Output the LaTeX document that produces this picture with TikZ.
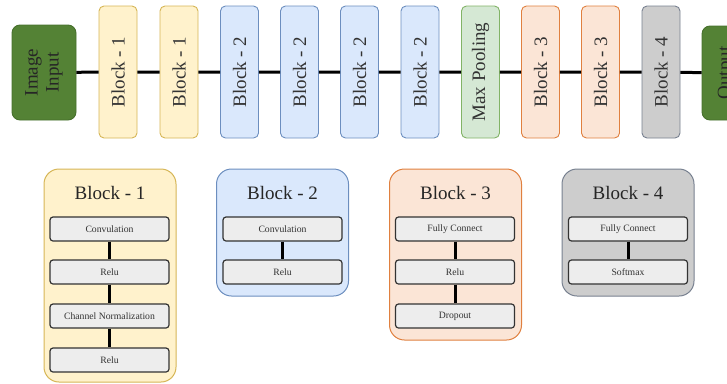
\documentclass[tikz,border=0pt]{standalone}
\usepackage{fontspec}
\setmainfont{Liberation Serif}
\usetikzlibrary{positioning}
\definecolor{yelfill}{HTML}{FFF2CC}
\definecolor{yeldraw}{HTML}{D6B656}
\definecolor{bluefill}{HTML}{DAE8FC}
\definecolor{bluedraw}{HTML}{6C8EBF}
\definecolor{grnfill}{HTML}{D5E8D4}
\definecolor{grndraw}{HTML}{82B366}
\definecolor{orgfill}{HTML}{FBE5D6}
\definecolor{orgdraw}{HTML}{E0803F}
\definecolor{gryfill}{HTML}{CDCDCD}
\definecolor{grydraw}{HTML}{788190}
\definecolor{darkgrn}{HTML}{548235}
\definecolor{darkgrndraw}{HTML}{46702C}
\definecolor{txtgray}{HTML}{333333}

\begin{document}
\begin{tikzpicture}[x=1pt,y=-1pt,
    stage/.style={draw, rounded corners=5pt, line width=0.9pt, rotate=90,
      minimum width=132pt, minimum height=38pt, inner sep=0pt,
      font=\fontsize{19}{21}\selectfont, text=txtgray},
    io/.style={draw=darkgrndraw, fill=darkgrn, rounded corners=8pt, line width=0.9pt,
      rotate=90, minimum width=95pt, inner sep=0pt, align=center,
      font=\fontsize{19}{21}\selectfont, text=black!85},
    group/.style={draw, rounded corners=15pt, line width=1pt, minimum width=132pt, inner sep=0pt},
    title/.style={font=\fontsize{19}{21}\selectfont, text=black!85},
    layer/.style={draw=black!80, fill=black!7, rounded corners=3pt, line width=1.2pt,
      minimum width=119pt, minimum height=24pt, inner sep=0pt,
      font=\fontsize{9.7}{11}\selectfont, text=black!80},
    link/.style={line width=3pt, black}]
  \useasboundingbox (0,0) rectangle (727,383);

  % Network from input to output
  \node[io, minimum height=64pt] (inp) at (44,72.5) {Image\\Input};
  \node[stage, fill=yelfill, draw=yeldraw] (b1a) at (118,72) {Block - 1};
  \node[stage, fill=yelfill, draw=yeldraw] (b1b) at (179,72) {Block - 1};
  \node[stage, fill=bluefill, draw=bluedraw] (b2a) at (239.5,72) {Block - 2};
  \node[stage, fill=bluefill, draw=bluedraw] (b2b) at (299.5,72) {Block - 2};
  \node[stage, fill=bluefill, draw=bluedraw] (b2c) at (359.5,72) {Block - 2};
  \node[stage, fill=bluefill, draw=bluedraw] (b2d) at (420,72) {Block - 2};
  \node[stage, fill=grnfill, draw=grndraw] (pool) at (480.5,72) {Max Pooling};
  \node[stage, fill=orgfill, draw=orgdraw] (b3a) at (540.5,72) {Block - 3};
  \node[stage, fill=orgfill, draw=orgdraw] (b3b) at (600.5,72) {Block - 3};
  \node[stage, fill=gryfill, draw=grydraw] (b4) at (661,72) {Block - 4};
  \node[io, minimum width=94pt, minimum height=44pt, text depth=0pt] (out) at (724,73) {Output};
  \draw[link] (inp) -- (b1a) -- (b1b) -- (b2a) -- (b2b) -- (b2c) -- (b2d)
    -- (pool) -- (b3a) -- (b3b) -- (b4) -- (out);

  % Block - 1
  \node[group, fill=yelfill, draw=yeldraw, minimum height=213pt] (grp1) at (110,275.5) {};
  \node[title] (t1) at (110,193) {Block - 1};
  \node[layer] (c1conv) at (109.5,229) {Convulation};
  \node[layer] (c1relu) at (109.5,272) {Relu};
  \node[layer] (c1norm) at (109.5,316) {Channel Normalization};
  \node[layer] (c1relub) at (109.5,360) {Relu};
  \draw[link] (c1conv) -- (c1relu) -- (c1norm) -- (c1relub);

  % Block - 2
  \node[group, fill=bluefill, draw=bluedraw, minimum height=127pt] (grp2) at (282.5,232.5) {};
  \node[title] (t2) at (282.5,193) {Block - 2};
  \node[layer] (c2conv) at (282.5,229) {Convulation};
  \node[layer] (c2relu) at (282.5,272) {Relu};
  \draw[link] (c2conv) -- (c2relu);

  % Block - 3
  \node[group, fill=orgfill, draw=orgdraw, minimum height=171pt] (grp3) at (455.5,254.5) {};
  \node[title] (t3) at (455.5,193) {Block - 3};
  \node[layer] (c3fc) at (455,229) {Fully Connect};
  \node[layer] (c3relu) at (455,272) {Relu};
  \node[layer] (c3drop) at (455,316) {Dropout};
  \draw[link] (c3fc) -- (c3relu) -- (c3drop);

  % Block - 4
  \node[group, fill=gryfill, draw=grydraw, minimum height=127pt] (grp4) at (628,232.5) {};
  \node[title] (t4) at (628,193) {Block - 4};
  \node[layer] (c4fc) at (628,229) {Fully Connect};
  \node[layer] (c4soft) at (628,272) {Softmax};
  \draw[link] (c4fc) -- (c4soft);
\end{tikzpicture}
\end{document}
